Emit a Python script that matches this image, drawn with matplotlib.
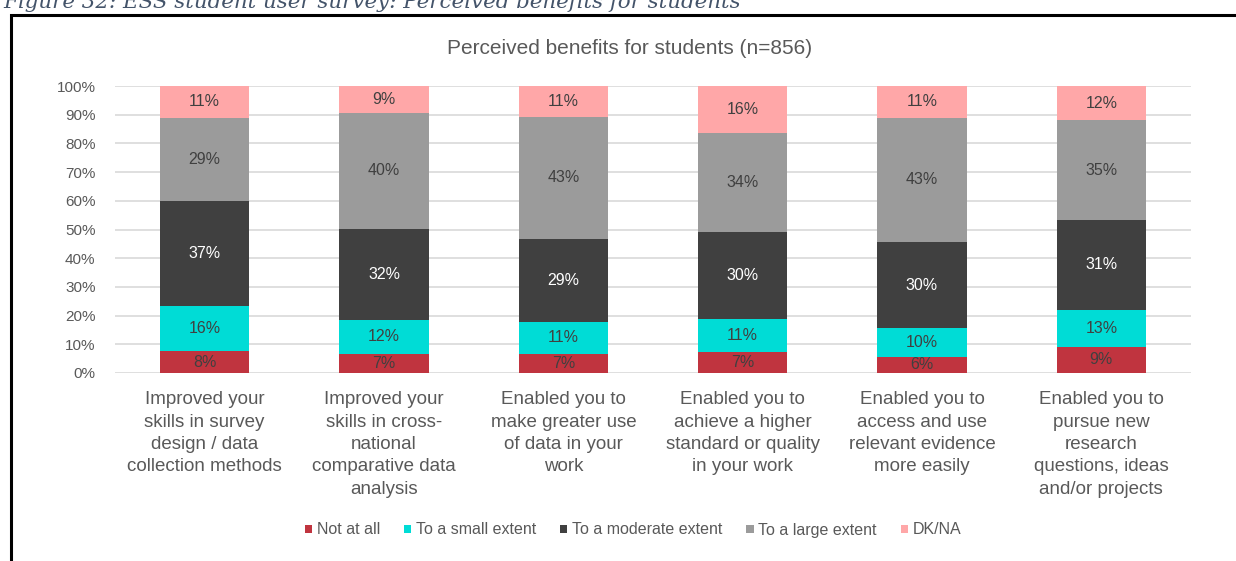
import matplotlib.pyplot as plt
import numpy as np
from matplotlib.patches import Rectangle

plt.rcParams['font.family'] = ['Liberation Sans', 'DejaVu Sans']

categories = [
    'Improved your\nskills in survey\ndesign / data\ncollection methods',
    'Improved your\nskills in cross-\nnational\ncomparative data\nanalysis',
    'Enabled you to\nmake greater use\nof data in your\nwork',
    'Enabled you to\nachieve a higher\nstandard or quality\nin your work',
    'Enabled you to\naccess and use\nrelevant evidence\nmore easily',
    'Enabled you to\npursue new\nresearch\nquestions, ideas\nand/or projects',
]
series = ['Not at all', 'To a small extent', 'To a moderate extent',
          'To a large extent', 'DK/NA']
not_at_all = [7.6, 6.6, 6.6, 7.4, 5.6, 9.1]
small = [15.8, 11.9, 11.2, 11.4, 10.1, 12.9]
moderate = [36.6, 31.7, 28.9, 30.4, 29.9, 31.4]
large = [29.0, 40.4, 42.6, 34.4, 43.3, 34.6]
dkna = [11.0, 9.4, 10.7, 16.4, 11.1, 12.0]

colors = ['#c0343f', '#00dcd6', '#404040', '#9b9b9b', '#ffa7a8']
text_colors = ['#404040', '#404040', '#ffffff', '#404040', '#404040']

fig = plt.figure(figsize=(12.36, 5.61), dpi=100)
ax = fig.add_axes([115 / 1236, 1 - 373 / 561, 1076 / 1236, 287 / 561])

x = np.arange(len(categories))
bottom = np.zeros(len(categories))
for name, vals, col, tcol in zip(series, [not_at_all, small, moderate, large, dkna],
                                 colors, text_colors):
    vals = np.array(vals)
    ax.bar(x, vals, 0.5, bottom=bottom, color=col, label=name, zorder=3)
    for xi, b, v in zip(x, bottom, vals):
        ax.text(xi, b + v / 2, f'{v:.0f}%', ha='center', va='center',
                fontsize=11.5, color=tcol, zorder=4)
    bottom += vals

ax.set_xlim(-0.5, len(categories) - 0.5)
ax.set_ylim(0, 100)
ax.set_yticks(np.arange(0, 101, 10))
ax.set_yticklabels([f'{t}%' for t in range(0, 101, 10)], fontsize=11, color='#595959')
ax.yaxis.grid(True, color='#d9d9d9', linewidth=1.2, zorder=0)
ax.tick_params(axis='both', length=0)
ax.tick_params(axis='y', pad=14)
for s in ax.spines.values():
    s.set_visible(False)

ax.set_xticks(x)
ax.set_xticklabels(categories, fontsize=13.5, color='#595959', linespacing=1.42,
                   va='top')
ax.tick_params(axis='x', pad=13)

fig.text(630 / 1236, 1 - 48 / 561, 'Perceived benefits for students (n=856)',
         ha='center', va='center', fontsize=15, color='#595959')

leg = fig.legend(loc='center', bbox_to_anchor=(633 / 1236, 1 - 530 / 561), ncol=5,
                 frameon=False, fontsize=11.5, handlelength=0.45, handleheight=0.45,
                 handletextpad=0.3, columnspacing=1.5, labelcolor='#595959')

# surrounding frame and the cut-off caption above it
fig.patches.append(Rectangle((11 / 1236, -0.1), 1.2, 1 - 14.5 / 561 + 0.1,
                             transform=fig.transFigure, fill=False,
                             edgecolor='black', linewidth=2.2))
fig.text(3 / 1236, 1 - 8.5 / 561, 'Figure 32: ESS student user survey: Perceived benefits for students',
         ha='left', va='baseline', fontsize=15.4, style='italic', color='#44546a',
         family=['DejaVu Serif'])

fig.savefig('out.png', dpi=100)
